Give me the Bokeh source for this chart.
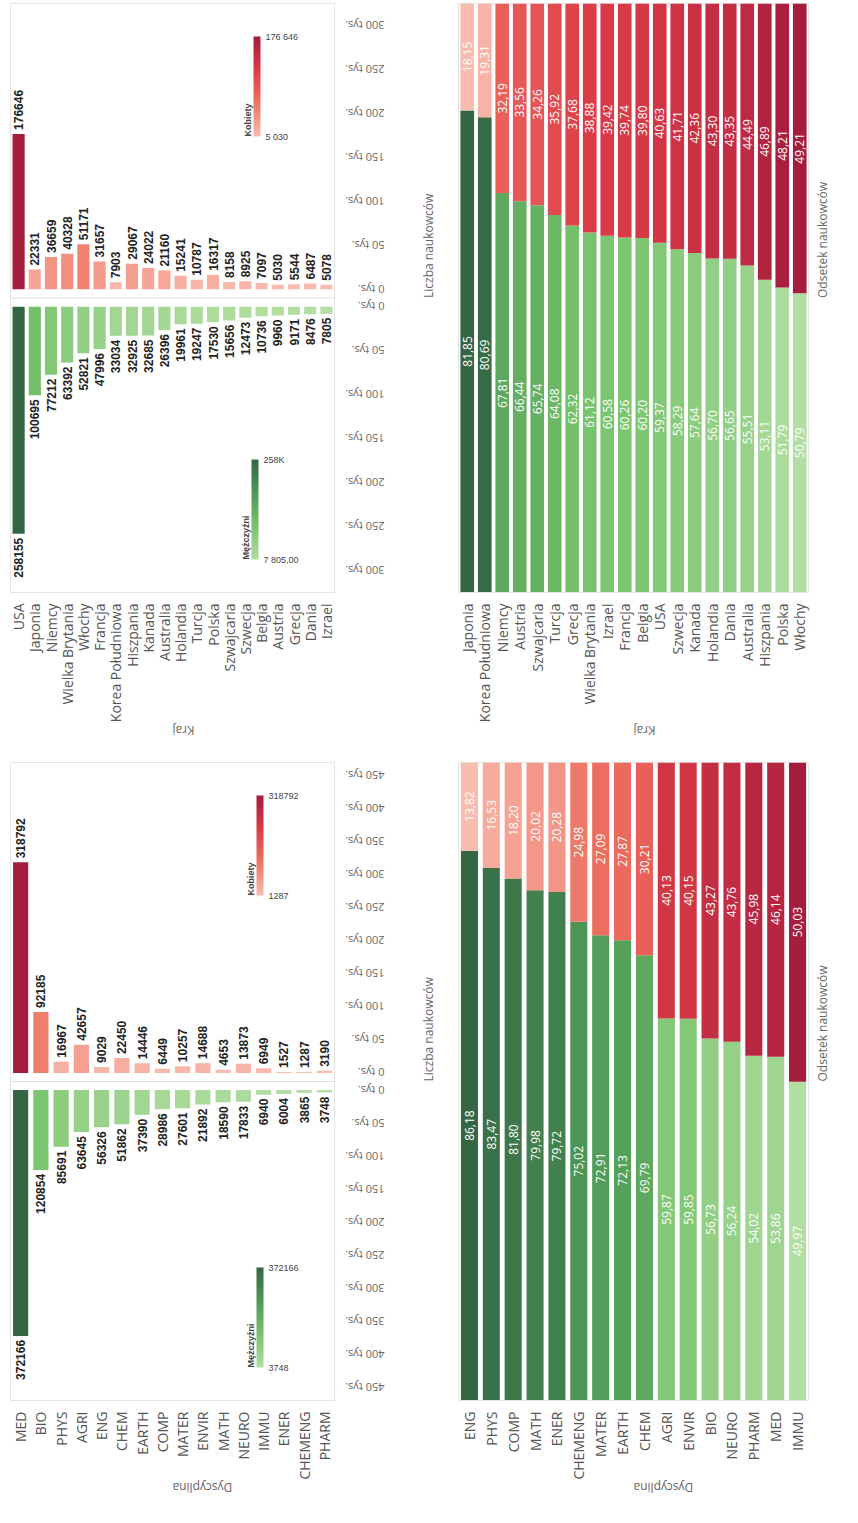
import math
import numpy as np
from bokeh.plotting import figure
from bokeh.models import (ColumnDataSource, Range1d, FixedTicker, ColorBar,
                          LinearColorMapper, Span, LinearAxis)
from bokeh.layouts import column, row
from bokeh.transform import linear_cmap
from bokeh.embed import file_html
from bokeh.resources import INLINE

# --- dane ---
kraje = ["USA", "Japonia", "Niemcy", "Wielka Brytania", "Włochy", "Francja",
         "Korea Południowa", "Hiszpania", "Kanada", "Australia", "Holandia",
         "Turcja", "Polska", "Szwajcaria", "Szwecja", "Belgia", "Austria",
         "Grecja", "Dania", "Izrael"]
kraje_m = [258155, 100695, 77212, 63392, 52821, 47996, 33034, 32925, 32685,
           26396, 19961, 19247, 17530, 15656, 12473, 10736, 9960, 9171, 8476, 7805]
kraje_k = [176646, 22331, 36659, 40328, 51171, 31657, 7903, 29067, 24022,
           21160, 15241, 10787, 16317, 8158, 8925, 7097, 5030, 5544, 6487, 5078]

dysc = ["MED", "BIO", "PHYS", "AGRI", "ENG", "CHEM", "EARTH", "COMP", "MATER",
        "ENVIR", "MATH", "NEURO", "IMMU", "ENER", "CHEMENG", "PHARM"]
dysc_m = [372166, 120854, 85691, 63645, 56326, 51862, 37390, 28986, 27601,
          21892, 18590, 17833, 6940, 6004, 3865, 3748]
dysc_k = [318792, 92185, 16967, 42657, 9029, 22450, 14446, 6449, 10257,
          14688, 4653, 13873, 6949, 1527, 1287, 3190]

kraje_pct = ["Japonia", "Korea Południowa", "Niemcy", "Austria", "Szwajcaria",
             "Turcja", "Grecja", "Wielka Brytania", "Izrael", "Francja", "Belgia",
             "USA", "Szwecja", "Kanada", "Holandia", "Dania", "Australia",
             "Hiszpania", "Polska", "Włochy"]
kraje_pct_m = [81.85, 80.69, 67.81, 66.44, 65.74, 64.08, 62.32, 61.12, 60.58,
               60.26, 60.20, 59.37, 58.29, 57.64, 56.70, 56.65, 55.51, 53.11,
               51.79, 50.79]
kraje_pct_k = [18.15, 19.31, 32.19, 33.56, 34.26, 35.92, 37.68, 38.88, 39.42,
               39.74, 39.80, 40.63, 41.71, 42.36, 43.30, 43.35, 44.49, 46.89,
               48.21, 49.21]

dysc_pct = ["ENG", "PHYS", "COMP", "MATH", "ENER", "CHEMENG", "MATER", "EARTH",
            "CHEM", "AGRI", "ENVIR", "BIO", "NEURO", "PHARM", "MED", "IMMU"]
dysc_pct_m = [86.18, 83.47, 81.80, 79.98, 79.72, 75.02, 72.91, 72.13, 69.79,
              59.87, 59.85, 56.73, 56.24, 54.02, 53.86, 49.97]
dysc_pct_k = [13.82, 16.53, 18.20, 20.02, 20.28, 24.98, 27.09, 27.87, 30.21,
              40.13, 40.15, 43.27, 43.76, 45.98, 46.14, 50.03]


def gradient(stops, n=256):
    rgb = np.array([[int(s[i:i + 2], 16) for i in (1, 3, 5)] for s in stops], float)
    pos = np.linspace(0, 1, len(stops))
    t = np.linspace(0, 1, n)
    out = [np.interp(t, pos, rgb[:, c]) for c in range(3)]
    return ["#%02x%02x%02x" % (int(r), int(g), int(b)) for r, g, b in zip(*out)]


RED = gradient(["#f9bcaf", "#ef7462", "#dc3c48", "#a51d3d"])
GREEN = gradient(["#b3dea3", "#78c46d", "#4f9a57", "#356644"])
FONT = "Open Sans"
TXT = "#555555"


def title_style(ax, angle=None):
    ax.axis_label_text_font = FONT
    ax.axis_label_text_font_style = "normal"
    ax.axis_label_text_font_size = "12px"
    ax.axis_label_text_color = "#666666"
    if angle is not None and "axis_label_orientation" in ax.properties():
        ax.axis_label_orientation = angle


def base(cats, width, height, mb):
    p = figure(x_range=cats, width=width, height=height, output_backend="svg",
               toolbar_location=None, y_axis_location=None,
               min_border_left=10, min_border_top=mb[0],
               min_border_right=mb[1], min_border_bottom=mb[2])
    p.outline_line_color = "#e4e4e4"
    p.xgrid.grid_line_color = None
    p.ygrid.grid_line_color = None
    ax = p.xaxis[0]
    ax.major_label_orientation = math.pi / 2
    ax.major_label_text_font = FONT
    ax.major_label_text_font_size = "14px"
    ax.major_label_text_color = TXT
    ax.major_tick_line_color = None
    ax.axis_line_color = "#e4e4e4"
    title_style(ax, math.pi)
    return p


def counts(cats, m, k, width, height, mb, gap, lim, step, nt, fmt_leg):
    p = base(cats, width, height, mb)
    p.y_range = Range1d(-(gap + lim), gap + lim)
    src = ColumnDataSource(dict(
        c=cats, m=m, k=k,
        ktop=[gap + v for v in k], mbot=[-(gap + v) for v in m],
        kl=[str(v) for v in k], ml=[str(v) for v in m]))
    p.vbar(x="c", bottom=gap, top="ktop", width=0.75, source=src,
           fill_color=linear_cmap("k", RED, min(k), max(k)), line_color=None)
    p.vbar(x="c", top=-gap, bottom="mbot", width=0.75, source=src,
           fill_color=linear_cmap("m", GREEN, min(m), max(m)), line_color=None)
    p.text(x="c", y="ktop", text="kl", source=src, angle=math.pi / 2,
           text_align="left", text_baseline="middle", y_offset=-4,
           text_font_size="12px", text_font_style="bold", text_color="#222222",
           text_font={"value": "Liberation Sans"})
    p.text(x="c", y="mbot", text="ml", source=src, angle=math.pi / 2,
           text_align="right", text_baseline="middle", y_offset=4,
           text_font_size="12px", text_font_style="bold", text_color="#222222",
           text_font={"value": "Liberation Sans"})
    p.add_layout(Span(location=0, dimension="width", line_color="#dddddd", line_width=1))
    ticks, labels = [], {}
    for i in range(nt + 1):
        for sgn in (1, -1):
            t = sgn * (gap + i * step)
            ticks.append(t)
            labels[t] = "%d tys." % (i * step // 1000)
    ax = LinearAxis(ticker=FixedTicker(ticks=ticks), major_label_overrides=labels,
                    major_label_orientation=math.pi, axis_label="Liczba naukowców",
                    major_label_standoff=44, axis_label_standoff=2)
    ax.major_label_text_font = FONT
    ax.major_label_text_font_size = "11px"
    ax.major_label_text_color = "#666666"
    ax.major_tick_line_color = None
    ax.minor_tick_line_color = None
    ax.axis_line_color = "#e4e4e4"
    title_style(ax, math.pi / 2)
    p.add_layout(ax, "right")
    cbk = ColorBar(color_mapper=LinearColorMapper(palette=RED, low=min(k), high=max(k)),
                   location="top_right", orientation="vertical", width=7, height=100,
                   title="Kobiety", title_text_font_size="9px", title_text_font_style="bold",
                   ticker=FixedTicker(ticks=[min(k), max(k)]),
                   major_label_overrides={min(k): fmt_leg[0], max(k): fmt_leg[1]},
                   major_label_text_font_size="9px", major_tick_line_color=None,
                   background_fill_alpha=0, padding=3)
    cbm = ColorBar(color_mapper=LinearColorMapper(palette=GREEN, low=min(m), high=max(m)),
                   location="bottom_right", orientation="vertical", width=7, height=100,
                   title="Mężczyźni", title_text_font_size="9px", title_text_font_style="bold",
                   ticker=FixedTicker(ticks=[min(m), max(m)]),
                   major_label_overrides={min(m): fmt_leg[2], max(m): fmt_leg[3]},
                   major_label_text_font_size="9px", major_tick_line_color=None,
                   background_fill_alpha=0, padding=3)
    p.add_layout(cbk, "center")
    p.add_layout(cbm, "center")
    return p


def pct(cats, m, k, width, height, mb):
    p = base(cats, width, height, mb)
    p.y_range = Range1d(0, 100)
    src = ColumnDataSource(dict(
        c=cats, m=m, k=k, mm=[v / 2 for v in m], km=[a + b / 2 for a, b in zip(m, k)],
        tot=[a + b for a, b in zip(m, k)],
        ml=[("%.2f" % v).replace(".", ",") for v in m],
        kl=[("%.2f" % v).replace(".", ",") for v in k]))
    p.vbar(x="c", bottom=0, top="m", width=0.78, source=src,
           fill_color=linear_cmap("m", GREEN, min(m), max(m)), line_color=None)
    p.vbar(x="c", bottom="m", top="tot", width=0.78, source=src,
           fill_color=linear_cmap("k", RED, min(k), max(k)), line_color=None)
    for yy, tt in (("mm", "ml"), ("km", "kl")):
        p.text(x="c", y=yy, text=tt, source=src, angle=math.pi / 2,
               text_align="center", text_baseline="middle", text_color="white",
               text_font_size="12px", text_font={"value": FONT})
    ax = LinearAxis(axis_label="Odsetek naukowców", ticker=FixedTicker(ticks=[]),
                    major_tick_line_color=None, minor_tick_line_color=None,
                    axis_line_color=None, axis_label_standoff=14)
    title_style(ax, math.pi / 2)
    p.add_layout(ax, "right")
    return p


p1 = counts(kraje, kraje_m, kraje_k, 448, 752, (3, 66, 160), 10000, 325000,
            50000, 6, ["5 030", "176 646", "7 805,00", "258K"])
p1.xaxis.axis_label = "Kraj"
p2 = pct(kraje_pct, kraje_pct_m, kraje_pct_k, 394, 752, (3, 10, 160))
p2.xaxis.axis_label = "Kraj"
p3 = counts(dysc, dysc_m, dysc_k, 448, 755, (10, 66, 105), 13000, 470000,
            50000, 9, ["1287", "318792", "3748", "372166"])
p3.xaxis.axis_label = "Dyscyplina"
p4 = pct(dysc_pct, dysc_pct_m, dysc_pct_k, 394, 755, (5, 10, 105))
p4.xaxis.axis_label = "Dyscyplina"

layout = column(row(p1, p2), row(p3, p4))
open("out.html", "w").write(file_html(layout, INLINE))
